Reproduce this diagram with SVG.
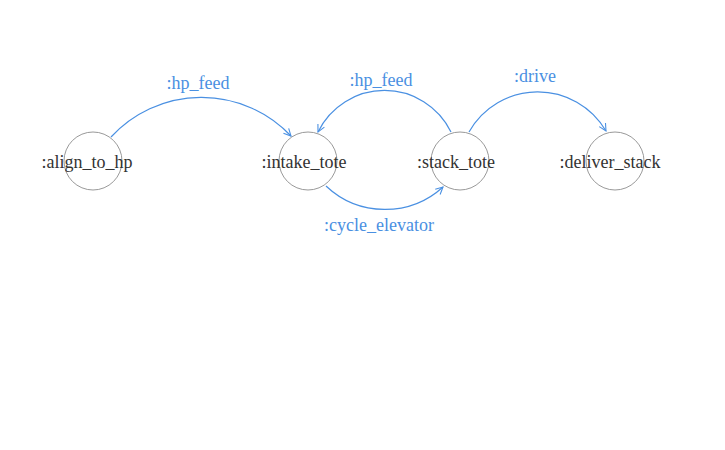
<svg xmlns="http://www.w3.org/2000/svg" width="725" height="450" viewBox="0 0 725 450">
<style>
.node circle{fill:none;stroke:#999;stroke-width:1}
.node text{font-family:'Liberation Serif','Times New Roman','DejaVu Serif',serif;font-size:18px;fill:#333;text-anchor:middle}
.edge path{fill:none;stroke:#4a90e2;stroke-width:1.2}
.lbl{font-family:'Liberation Serif','Times New Roman','DejaVu Serif',serif;font-size:18px;fill:#4a90e2;text-anchor:middle}
</style>
<defs>
<marker id="arr" viewBox="0 0 10 10" refX="9" refY="5" markerWidth="9" markerHeight="9" markerUnits="userSpaceOnUse" orient="auto">
<path d="M1,1 L9,5 L1,9" fill="none" stroke="#4a90e2" stroke-width="1.2"/>
</marker>
</defs>
<rect width="725" height="450" fill="#fff"/>
<g id="connectors" class="edge">
<path d="M111,137 A123,123 0 0 1 291,136" marker-end="url(#arr)"/>
<path d="M451,132 A74,74 0 0 0 318,132" marker-end="url(#arr)"/>
<path d="M469,132 A79,79 0 0 1 606,131" marker-end="url(#arr)"/>
<path d="M326,186 A86,86 0 0 0 443,187" marker-end="url(#arr)"/>
<text class="lbl" x="198" y="89">:hp_feed</text>
<text class="lbl" x="381" y="86">:hp_feed</text>
<text class="lbl" x="535" y="82">:drive</text>
<text class="lbl" x="379" y="231">:cycle_elevator</text>
</g>
<g id="align_to_hp" class="node"><circle cx="93" cy="161" r="29"/><text x="87" y="168">:align_to_hp</text></g>
<g id="intake_tote" class="node"><circle cx="308" cy="161" r="29"/><text x="304" y="168">:intake_tote</text></g>
<g id="stack_tote" class="node"><circle cx="460" cy="161" r="29"/><text x="456" y="168">:stack_tote</text></g>
<g id="deliver_stack" class="node"><circle cx="615" cy="161" r="29"/><text x="610" y="168">:deliver_stack</text></g>
</svg>
